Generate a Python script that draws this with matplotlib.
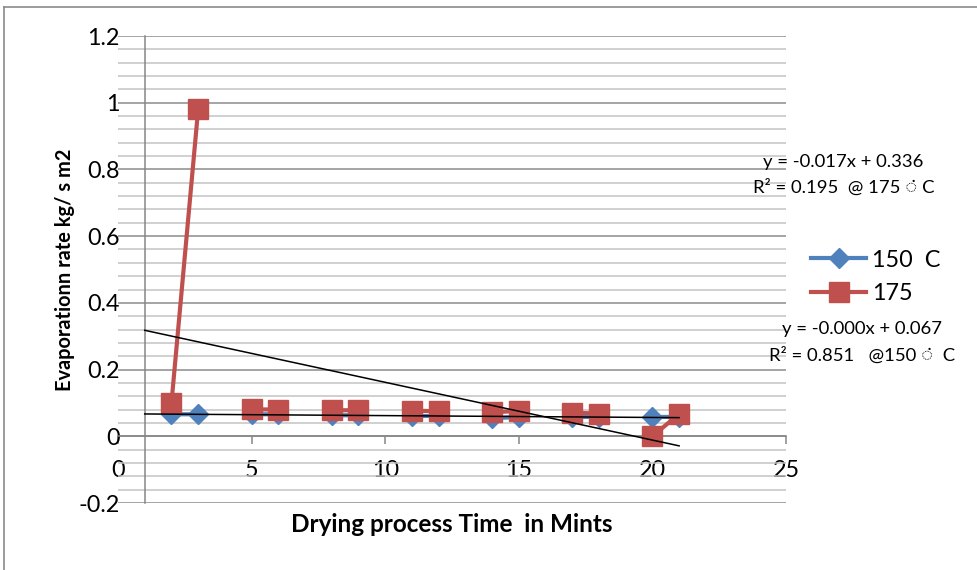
import numpy as np
import pandas as pd
import matplotlib
matplotlib.use("Agg")
import matplotlib.pyplot as plt
from matplotlib.lines import Line2D

plt.rcParams['font.family'] = ['Lato', 'DejaVu Sans']

# drying time (min) and evaporation rate (kg/ s m2)
time_min = [2, 3, 5, 6, 8, 9, 11, 12, 14, 15, 17, 18, 20, 21]
rate_150 = [0.066, 0.066, 0.066, 0.066, 0.063, 0.063, 0.061, 0.061, 0.054, 0.058, 0.058, 0.058, 0.058, 0.058]
rate_175 = [0.099, 0.980, 0.081, 0.080, 0.078, 0.078, 0.077, 0.075, 0.072, 0.076, 0.071, 0.068, 0.000, 0.067]

series_labels = ["150  C", "175"]
x_ticks = [0, 5, 10, 15, 20, 25]
x_tick_labels = ["0", "5", "10", "15", "20", "25"]
y_ticks = [-0.2, 0, 0.2, 0.4, 0.6, 0.8, 1.0, 1.2]
y_tick_labels = ["-0.2", "0", "0.2", "0.4", "0.6", "0.8", "1", "1.2"]

eq_175 = "y = -0.017x + 0.336"
r2_175 = "R² = 0.195  @ 175 ◌̇ C"
eq_150 = "y = -0.000x + 0.067"
r2_150 = "R² = 0.851   @150 ◌̇  C"

blue = "#4F81BD"
red = "#C0504D"

W, H = 978, 570
fig = plt.figure(figsize=(W / 100, H / 100), dpi=100)
ax = fig.add_axes([118 / W, 1 - 503 / H, 668 / W, 467 / H])

# blank cells in the sheet -> gaps in the lines
full_x = range(1, 22)
s150 = pd.Series(rate_150, index=time_min).reindex(full_x)
s175 = pd.Series(rate_175, index=time_min).reindex(full_x)

l150, = ax.plot(s150.index, s150.values, color=blue, lw=3, marker="D", ms=9.7, zorder=3)
l175, = ax.plot(s175.index, s175.values, color=red, lw=3, marker="s", ms=14.4, zorder=4)

# linear trendlines, forecast back one period
tx = np.array([1, 21])
for vals in (rate_150, rate_175):
    k, b = np.polyfit(time_min, vals, 1)
    ax.plot(tx, k * tx + b, color="black", lw=1.1, zorder=5)

ax.set_xlim(0, 25)
ax.set_ylim(-0.2, 1.2)
for side in ("top", "right"):
    ax.spines[side].set_visible(False)
ax.spines["left"].set_position(("data", 1))
ax.spines["bottom"].set_position(("data", 0))
for side in ("left", "bottom"):
    ax.spines[side].set_color("#868686")
    ax.spines[side].set_linewidth(1.1)

ax.set_xticks(x_ticks, x_tick_labels)
ax.set_yticks(y_ticks, y_tick_labels)
ax.set_yticks(np.arange(-0.2, 1.2001, 0.04), minor=True)
ax.tick_params(axis="y", which="both", length=0, pad=18, labelsize=16.8)
ax.tick_params(axis="x", direction="out", length=6, width=1.1, color="#868686", pad=11, labelsize=16.8)
ax.grid(axis="y", which="major", color="#8c8c8c", lw=1.1)
ax.grid(axis="y", which="minor", color="#c4c4c4", lw=1.1)
ax.set_axisbelow(True)

fig.text(65 / W, 1 - 270 / H, "Evaporationn rate kg/ s m2", rotation=90, fontsize=14.4,
         fontweight="bold", ha="center", va="center")
fig.text(452 / W, 1 - 524 / H, "Drying process Time  in Mints", fontsize=17.5,
         fontweight="bold", ha="center", va="center")

fig.text(843 / W, 1 - 162 / H, eq_175, fontsize=13.3, ha="center", va="center")
fig.text(844 / W, 1 - 187 / H, r2_175, fontsize=13.3, ha="center", va="center")
fig.text(862 / W, 1 - 329 / H, eq_150, fontsize=13.3, ha="center", va="center")
fig.text(862 / W, 1 - 355 / H, r2_150, fontsize=13.3, ha="center", va="center")

fig.legend([l150, l175], series_labels, loc="center left", bbox_to_anchor=(811 / W, 1 - 277 / H),
           frameon=False, fontsize=16.8, handlelength=2.36, handletextpad=0.25,
           labelspacing=0.55, borderpad=0, borderaxespad=0)

# outer chart frame
fig.add_artist(Line2D([4 / W, 1], [1 - 7 / H, 1 - 7 / H], transform=fig.transFigure, color="#8a8a8a", lw=1.2))
fig.add_artist(Line2D([4 / W, 4 / W], [0, 1 - 7 / H], transform=fig.transFigure, color="#8a8a8a", lw=1.2))

fig.savefig("out.png", dpi=100)
